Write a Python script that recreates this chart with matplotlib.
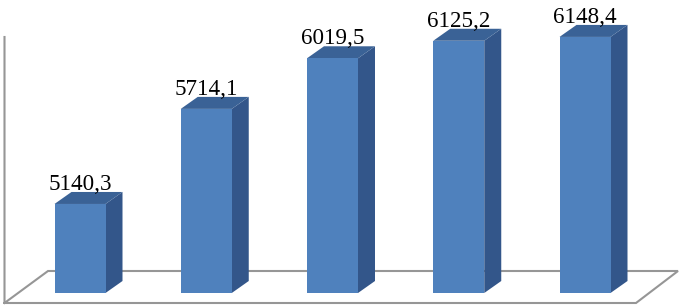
import matplotlib
matplotlib.use("Agg")
import matplotlib.pyplot as plt
from matplotlib.collections import PolyCollection

labels = ["5140,3", "5714,1", "6019,5", "6125,2", "6148,4"]
values = [5140.3, 5714.1, 6019.5, 6125.2, 6148.4]
positions = [0, 1, 2, 3, 4]

W, H = 684, 307
BASE = 4603.0
PX_PER_VAL = 0.1657
PX_PER_CAT = 126.25
X0_PX = 80.0
Y0_PX = 293
dx = 17 / PX_PER_CAT
dy = 12 / PX_PER_VAL
bw = 51 / PX_PER_CAT

fig = plt.figure(figsize=(W / 100, H / 100), dpi=100)
ax = fig.add_axes([0, 0, 1, 1])
ax.set_xlim(-X0_PX / PX_PER_CAT, (W - X0_PX) / PX_PER_CAT)
ax.set_ylim(BASE - (H - Y0_PX) / PX_PER_VAL, BASE + Y0_PX / PX_PER_VAL)
ax.axis("off")

def px(xp, yp):
    return ((xp - X0_PX) / PX_PER_CAT, BASE + (Y0_PX - yp) / PX_PER_VAL)

grey = "#969696"
ax.plot(*zip(px(4.5, 37), px(4.5, 303), px(636, 303), px(678, 271), px(48, 271), px(4.5, 303)),
        color=grey, lw=1.5, solid_joinstyle="miter", zorder=1)

tops, sides = [], []
for p, v in zip(positions, values):
    l, r = p - bw / 2, p + bw / 2
    tops.append([(l, v), (r, v), (r + dx, v + dy), (l + dx, v + dy)])
    sides.append([(r, BASE), (r + dx, BASE + dy), (r + dx, v + dy), (r, v)])
ax.add_collection(PolyCollection(sides, facecolors="#33568A", edgecolors="none", zorder=2))
ax.add_collection(PolyCollection(tops, facecolors="#3A6296", edgecolors="none", zorder=2))
ax.bar(positions, [v - BASE for v in values], bottom=BASE, width=bw, color="#4F81BD", zorder=3)

for p, v, s in zip(positions, values, labels):
    ax.annotate(s, (p, v), xytext=(0, 10), textcoords="offset points", ha="center", va="baseline",
                family="Liberation Serif", fontsize=16.6, color="black", zorder=4)

fig.savefig("out.png", dpi=100)
